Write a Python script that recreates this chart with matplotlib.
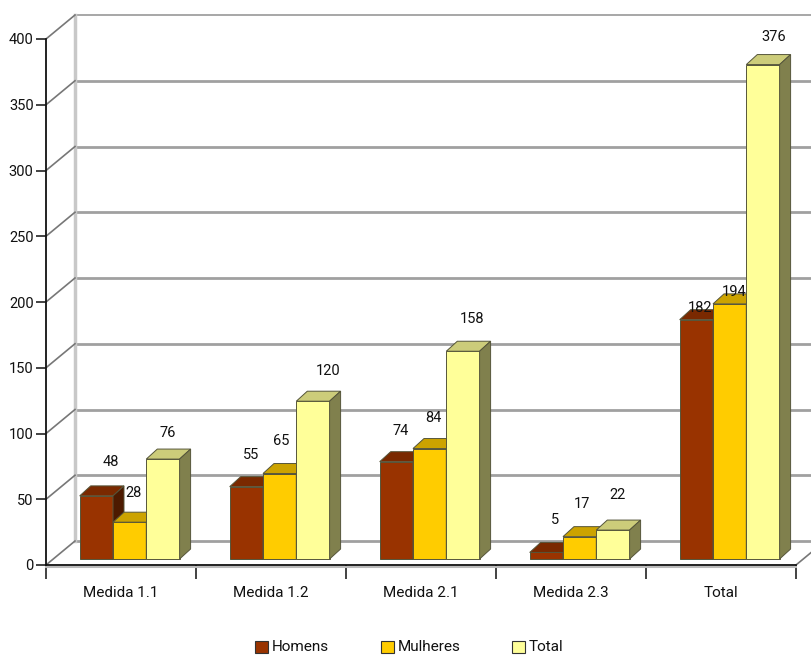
import matplotlib
matplotlib.use('Agg')
import matplotlib.pyplot as plt

categories = ['Medida 1.1', 'Medida 1.2', 'Medida 2.1', 'Medida 2.3', 'Total']
homens = [48, 55, 74, 5, 182]
mulheres = [28, 65, 84, 17, 194]
total = [76, 120, 158, 22, 376]
y_ticks = [0, 50, 100, 150, 200, 250, 300, 350, 400]

W, H = 811, 655
LEFT, RIGHT, BOTTOM, TOP = 46, 796, 565, 39
CAT_W = (RIGHT - LEFT) / len(categories)
PX_PER_UNIT = (BOTTOM - TOP) / 400

plt.rcParams['font.family'] = ['Roboto', 'DejaVu Sans']
TEXT = '#111111'


def px_x(p):
    return p / CAT_W


def px_y(p):
    return p / PX_PER_UNIT


fig = plt.figure(figsize=(W / 100, H / 100), dpi=100)
ax = fig.add_axes([LEFT / W, 1 - BOTTOM / H, (RIGHT - LEFT) / W, (BOTTOM - TOP) / H])
ax.set_xlim(0, len(categories))
ax.set_ylim(0, 400)

for s in ['top', 'right']:
    ax.spines[s].set_visible(False)
for s in ['left', 'bottom']:
    ax.spines[s].set_color('#111111')
    ax.spines[s].set_linewidth(1.3)
    ax.spines[s].set_zorder(40)

ax.set_yticks(y_ticks)
ax.set_yticklabels([str(v) for v in y_ticks], fontsize=10.5, color=TEXT)
ax.tick_params(axis='y', length=7, width=1.2, color='#222222', pad=2)
ax.set_xticks(range(len(categories) + 1))
ax.set_xticklabels([])
ax.set_xticks([i + 0.5 for i in range(len(categories))], minor=True)
ax.set_xticklabels(categories, minor=True, fontsize=11, color=TEXT)
ax.tick_params(axis='x', which='major', length=10, width=1.2, color='#222222')
ax.tick_params(axis='x', which='minor', length=0, pad=15)

# back wall, floor and the slanted lines running to the front axis
wall_dx, wall_dy = px_x(29), px_y(24)
for v in y_ticks:
    ax.plot([wall_dx, len(categories) + wall_dx], [v + wall_dy, v + wall_dy],
            color='#a0a0a0', lw=1.3 if v == 400 else 2, clip_on=False, zorder=1)
    ax.plot([0, wall_dx], [v, v + wall_dy], color='#777777', lw=1.2, clip_on=False, zorder=2)
ax.plot([wall_dx, wall_dx], [wall_dy, 400 + wall_dy], color='#c8c8c8', lw=2.5, clip_on=False, zorder=1)
ax.plot([len(categories), len(categories) + wall_dx], [0, wall_dy], color='#777777', lw=1.2,
        clip_on=False, zorder=2)
# soft shadow under the bottom axis
ax.plot([0, len(categories)], [-px_y(2)] * 2, color='#bbbbbb', lw=1.5, clip_on=False, zorder=3)

series = [
    ('Homens', homens, '#993300', '#7a2900', '#4d1a00'),
    ('Mulheres', mulheres, '#ffcc00', '#cca300', '#806600'),
    ('Total', total, '#ffff99', '#cccc7a', '#80804d'),
]
# label shift from each bar's front top-left corner, in pixels
label_shift = [
    [(31, 34), (21, 32), (21, 31), (25, 32), (20, 12)],
    [(20, 29), (18, 33), (20, 31), (19, 33), (21, 12)],
    [(21, 26), (32, 30), (26, 32), (21, 35), (27, 28)],
]

bar_w = 33.3 / CAT_W
bar_start = 33.7 / CAT_W
depth_x, depth_y = px_x(11), px_y(10)
base = px_y(6)
edge = '#55553a'

z = 10
for s, (name, values, front, top, side) in enumerate(series):
    for i, v in enumerate(values):
        x0 = i + bar_start + s * bar_w
        x1 = x0 + bar_w
        y1 = base + v
        ax.bar(x0, v, bar_w, bottom=base, align='edge', color=front, edgecolor=edge, linewidth=0.7,
               zorder=z, clip_on=False)
        ax.fill([x0, x0 + depth_x, x1 + depth_x, x1], [y1, y1 + depth_y, y1 + depth_y, y1],
                facecolor=top, edgecolor=edge, linewidth=0.7, zorder=z, clip_on=False)
        ax.fill([x1, x1 + depth_x, x1 + depth_x, x1], [base, base + depth_y, y1 + depth_y, y1],
                facecolor=side, edgecolor=edge, linewidth=0.7, zorder=z, clip_on=False)
        dx, dy = label_shift[s][i]
        ax.text(x0 + px_x(dx), y1 + px_y(dy), str(v), ha='center', va='center', fontsize=10.5,
                color=TEXT, zorder=z + 0.5, clip_on=False)
        z += 1

# legend row below the categories
legend_x = [255, 381, 512]
for (name, values, front, top, side), lx in zip(series, legend_x):
    fig.patches.append(plt.Rectangle((lx / W, 1 - 653 / H), 13 / W, 12 / H, transform=fig.transFigure,
                                     facecolor=front, edgecolor='#333333', linewidth=0.8))
    fig.text((lx + 17) / W, 1 - 647 / H, name, ha='left', va='center', fontsize=11, color=TEXT)

fig.savefig('out.png', dpi=100)
